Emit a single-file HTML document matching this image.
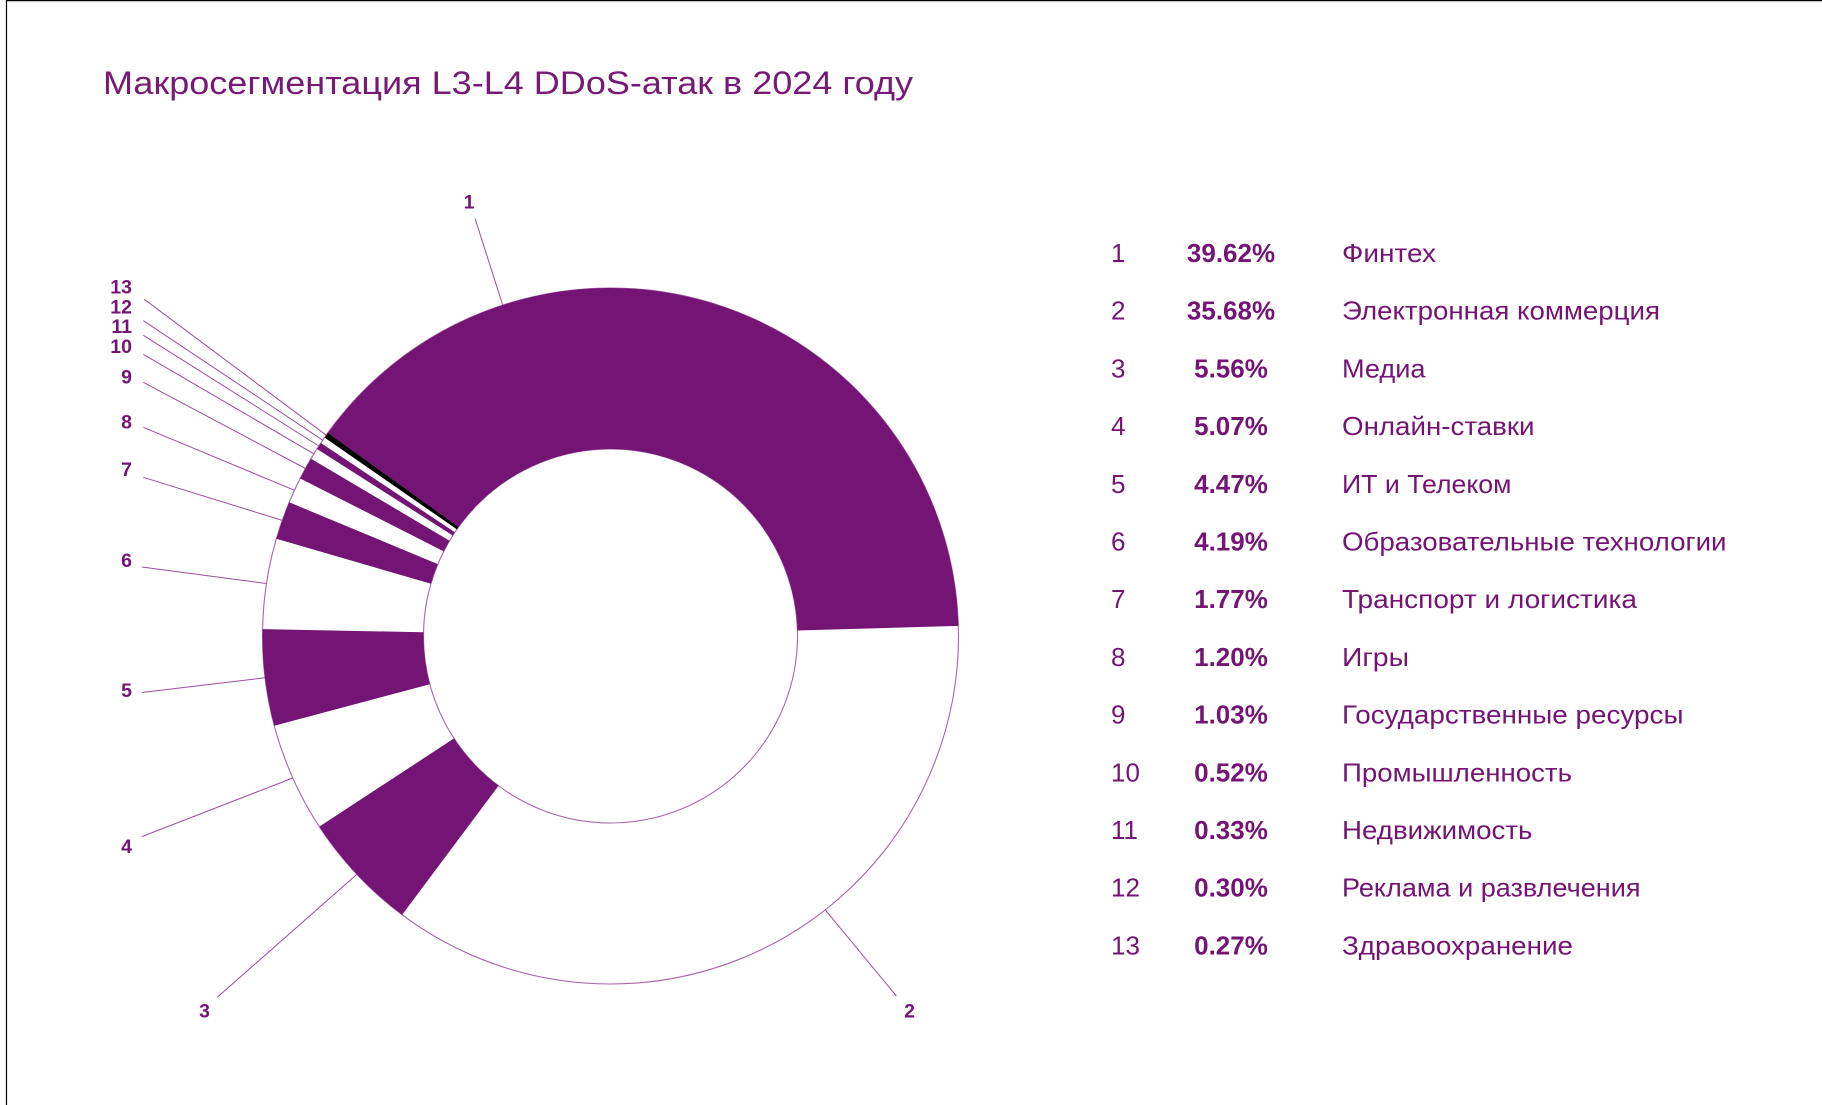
<!DOCTYPE html>
<html>
<head>
<meta charset="utf-8">
<style>
html,body{margin:0;padding:0;background:#fff;width:1822px;height:1105px;overflow:hidden}
svg{display:block}
</style>
</head>
<body>
<svg width="1822" height="1105" viewBox="0 0 1822 1105" xmlns="http://www.w3.org/2000/svg" font-family="'Liberation Sans', 'DejaVu Sans', sans-serif">
  <rect x="0" y="0" width="1822" height="1105" fill="#ffffff"/>
  <!-- frame -->
  <line x1="6.5" y1="0" x2="6.5" y2="1105" stroke="#000" stroke-width="1.2"/>
  <line x1="6" y1="0.6" x2="1822" y2="0.6" stroke="#000" stroke-width="1.2"/>

  <!-- title -->
  <text x="103" y="94" font-size="32" fill="#761a75" textLength="810" lengthAdjust="spacingAndGlyphs">Макросегментация L3-L4 DDoS-атак в 2024 году</text>

  <!-- donut outlines -->
  <circle cx="610.5" cy="636" r="348" fill="#fff" stroke="#a866a8" stroke-width="1.1"/>
  <circle cx="610.5" cy="636" r="187" fill="#fff" stroke="#a866a8" stroke-width="1.1"/>

  <!-- purple segments -->
  <g fill="#741474">
    <path d="M 327.89 432.93 A 348 348 0 0 1 958.35 625.87 L 797.42 630.56 A 187 187 0 0 0 458.64 526.88 Z"/>
    <path d="M 402.14 914.73 A 348 348 0 0 1 319.32 826.57 L 454.03 738.41 A 187 187 0 0 0 498.53 785.78 Z"/>
    <path d="M 274.28 725.79 A 348 348 0 0 1 262.57 629.08 L 423.54 632.28 A 187 187 0 0 0 429.83 684.25 Z"/>
    <path d="M 276.36 538.77 A 348 348 0 0 1 289.21 502.29 L 437.85 564.15 A 187 187 0 0 0 430.95 583.75 Z"/>
    <path d="M 300.20 478.47 A 348 348 0 0 1 311.04 458.73 L 449.58 540.74 A 187 187 0 0 0 443.76 551.35 Z"/>
    <path d="M 316.99 449.04 A 348 348 0 0 1 320.92 442.99 L 454.89 532.29 A 187 187 0 0 0 452.78 535.54 Z"/>
  </g>
  <!-- segment 13 black -->
  <path d="M 324.61 437.57 A 348 348 0 0 1 327.89 432.93 L 458.64 526.88 A 187 187 0 0 0 456.88 529.37 Z" fill="#000"/>

  <!-- leader lines -->
  <g stroke="#9b4f9b" stroke-width="1" fill="none">
    <line x1="475" y1="218.3" x2="502.7" y2="305"/>
    <line x1="896.4" y1="996" x2="825.3" y2="909.9"/>
    <line x1="217.3" y1="997.3" x2="356.9" y2="874.3"/>
    <line x1="141.8" y1="836.6" x2="292.8" y2="778.0"/>
    <line x1="141.8" y1="692.5" x2="265.0" y2="677.8"/>
    <line x1="141.8" y1="567" x2="266.5" y2="583.5"/>
    <line x1="143.3" y1="477.3" x2="282.3" y2="520.4"/>
    <line x1="143.3" y1="427.3" x2="294.5" y2="490.3"/>
    <line x1="143.3" y1="382.3" x2="305.5" y2="468.5"/>
    <line x1="143.3" y1="354.3" x2="314.0" y2="453.9"/>
    <line x1="143.3" y1="335.3" x2="318.9" y2="446.0"/>
    <line x1="143.3" y1="320.7" x2="322.8" y2="440.3"/>
    <line x1="144.3" y1="299.3" x2="326.2" y2="435.2"/>
  </g>

  <!-- donut labels -->
  <g font-size="19.5" font-weight="bold" fill="#741474">
    <text x="469" y="208.3" text-anchor="middle">1</text>
    <text x="909.5" y="1017.3" text-anchor="middle">2</text>
    <text x="204.5" y="1017.3" text-anchor="middle">3</text>
    <text x="132" y="853" text-anchor="end">4</text>
    <text x="132" y="697" text-anchor="end">5</text>
    <text x="132" y="567" text-anchor="end">6</text>
    <text x="132" y="476" text-anchor="end">7</text>
    <text x="132" y="428.7" text-anchor="end">8</text>
    <text x="132" y="383.7" text-anchor="end">9</text>
    <text x="132" y="353" text-anchor="end">10</text>
    <text x="132" y="333" text-anchor="end">11</text>
    <text x="132" y="313.7" text-anchor="end">12</text>
    <text x="132" y="293.7" text-anchor="end">13</text>
  </g>

  <!-- legend numbers -->
  <g font-size="26" fill="#741474">
    <text x="1111" y="262">1</text>
    <text x="1111" y="319.7">2</text>
    <text x="1111" y="377.4">3</text>
    <text x="1111" y="435.1">4</text>
    <text x="1111" y="492.8">5</text>
    <text x="1111" y="550.5">6</text>
    <text x="1111" y="608.2">7</text>
    <text x="1111" y="665.9">8</text>
    <text x="1111" y="723.6">9</text>
    <text x="1111" y="781.3">10</text>
    <text x="1111" y="839">11</text>
    <text x="1111" y="896.7">12</text>
    <text x="1111" y="954.4">13</text>
  </g>

  <!-- legend percentages -->
  <g font-size="26" font-weight="bold" fill="#741474" text-anchor="middle">
    <text x="1231" y="262">39.62%</text>
    <text x="1231" y="319.7">35.68%</text>
    <text x="1231" y="377.4">5.56%</text>
    <text x="1231" y="435.1">5.07%</text>
    <text x="1231" y="492.8">4.47%</text>
    <text x="1231" y="550.5">4.19%</text>
    <text x="1231" y="608.2">1.77%</text>
    <text x="1231" y="665.9">1.20%</text>
    <text x="1231" y="723.6">1.03%</text>
    <text x="1231" y="781.3">0.52%</text>
    <text x="1231" y="839">0.33%</text>
    <text x="1231" y="896.7">0.30%</text>
    <text x="1231" y="954.4">0.27%</text>
  </g>

  <!-- legend names -->
  <g font-size="26" fill="#741474">
    <text x="1342" y="262" textLength="94" lengthAdjust="spacingAndGlyphs">Финтех</text>
    <text x="1342" y="319.7" textLength="318" lengthAdjust="spacingAndGlyphs">Электронная коммерция</text>
    <text x="1342" y="377.4" textLength="83.5" lengthAdjust="spacingAndGlyphs">Медиа</text>
    <text x="1342" y="435.1" textLength="192.5" lengthAdjust="spacingAndGlyphs">Онлайн-ставки</text>
    <text x="1342" y="492.8" textLength="169.5" lengthAdjust="spacingAndGlyphs">ИТ и Телеком</text>
    <text x="1342" y="550.5" textLength="384.5" lengthAdjust="spacingAndGlyphs">Образовательные технологии</text>
    <text x="1342" y="608.2" textLength="295" lengthAdjust="spacingAndGlyphs">Транспорт и логистика</text>
    <text x="1342" y="665.9" textLength="67" lengthAdjust="spacingAndGlyphs">Игры</text>
    <text x="1342" y="723.6" textLength="341.5" lengthAdjust="spacingAndGlyphs">Государственные ресурсы</text>
    <text x="1342" y="781.3" textLength="230" lengthAdjust="spacingAndGlyphs">Промышленность</text>
    <text x="1342" y="839" textLength="190.5" lengthAdjust="spacingAndGlyphs">Недвижимость</text>
    <text x="1342" y="896.7" textLength="298.5" lengthAdjust="spacingAndGlyphs">Реклама и развлечения</text>
    <text x="1342" y="954.4" textLength="231" lengthAdjust="spacingAndGlyphs">Здравоохранение</text>
  </g>
</svg>
</body>
</html>
